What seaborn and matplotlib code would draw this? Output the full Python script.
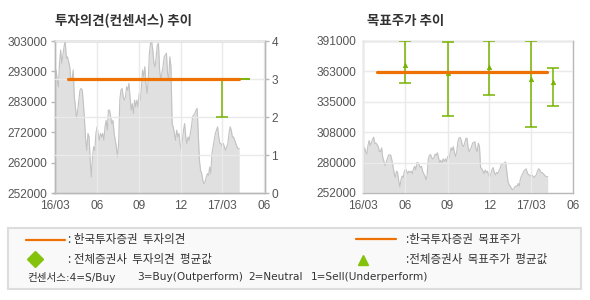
import numpy as np
import pandas as pd
import matplotlib
matplotlib.use('Agg')
import matplotlib.pyplot as plt
from matplotlib.patches import Rectangle
from matplotlib.lines import Line2D
import seaborn as sns

sns.set_theme(style='white')
plt.rcParams['font.family'] = ['Noto Sans CJK KR', 'DejaVu Sans']

# ---------------- data ----------------
price = [
    292700, 293300, 289900, 287600, 295500, 300000, 295500, 298300, 301100, 303000,
    297200, 297700, 296100, 294400, 289900, 289900, 293300, 284300, 280900, 277000,
    279800, 283200, 286500, 287100, 286500, 282000, 276400, 269700, 266300, 272000,
    270800, 263000, 257400, 264100, 267500, 266300, 272000, 274200, 272000, 269700,
    272000, 270800, 272000, 269700, 274200, 276400, 273100, 279800, 279800, 277600,
    275300, 276400, 272000, 269700, 267500, 264100, 268600, 283200, 286500, 287100,
    284300, 283200, 284300, 287600, 286500, 288800, 284300, 279800, 282000, 278700,
    283200, 280900, 283200, 280900, 285400, 283200, 287600, 293300, 291000, 294400,
    288800, 285400, 289900, 298900, 302200, 302800, 300000, 295500, 294400, 297700,
    301700, 302200, 293300, 289900, 292100, 294400, 297700, 298300, 298900, 292100,
    289900, 297700, 294400, 275300, 274200, 272000, 269700, 273100, 270800, 272000,
    268600, 266300, 269700, 273100, 275300, 270800, 268600, 270800, 269700, 272000,
    274200, 277600, 278100, 278700, 279800, 280400, 272000, 263000, 259600, 258500,
    256300, 255100, 255700, 257400, 258500, 257900, 260700, 258500, 265200, 267500,
    269700, 272000, 273100, 274200, 270800, 268600, 268600, 267500, 268600, 267500,
    266300, 267500, 268600, 272000, 274200, 273100, 270800, 270800, 269700, 268600,
    267500, 266900, 266900,
]
price_start, price_end = '2016-03-02', '2017-04-07'

house_start, house_end = '2016-03-31', '2017-04-06'
house_opinion = 3
house_target = 363000

survey_dates = ['2016-06-01', '2016-09-01', '2016-12-01', '2017-03-01', '2017-04-18']
tp_max = [391000, 389800, 391000, 391000, 366600]
tp_min = [352200, 322000, 341200, 311900, 332000]
tp_mean = [369500, 362000, 367000, 356000, 353700]
op_max = [3, 3, 3, 3, 3]
op_min = [3, 3, 3, 2, 3]
op_mean = [3, 3, 3, 3, 3]

left_tick_labels = ['252000', '262000', '272000', '283000', '293000', '303000']
right_tick_labels = ['252000', '280000', '308000', '335000', '363000', '391000']
opinion_ticks = [0, 1, 2, 3, 4]
x_tick_dates = ['2016-03-01', '2016-06-01', '2016-09-01', '2016-12-01', '2017-03-01', '2017-06-01']
x_tick_labels = ['16/03', '06', '09', '12', '17/03', '06']
consensus_parts = ['컨센서스:4=S/Buy', '3=Buy(Outperform)', '2=Neutral', '1=Sell(Underperform)']

# ---------------- styling ----------------
ORANGE = '#EE7203'
GREEN = '#76B300'
GREEN_L = '#84C20C'
FILL = '#E0E0E0'
PLINE = '#C2C2C2'
GRID = '#EAEAEA'
SPINE = '#B8B8B8'
TXT = '#555555'
DARK = '#333333'

W, H = 590, 300
fig = plt.figure(figsize=(W / 100, H / 100), dpi=100)
fig.patch.set_facecolor('white')

def rect(x0, y0, x1, y1):
    return [x0 / W, 1 - y1 / H, (x1 - x0) / W, (y1 - y0) / H]

dates = pd.date_range(price_start, price_end, periods=len(price))
df = pd.DataFrame({'date': dates, 'price': price})
xt = pd.to_datetime(x_tick_dates)
xlim = (xt[0], xt[-1])
sd = pd.to_datetime(survey_dates)


def style_axis(ax):
    ax.set_facecolor('white')
    for s in ax.spines.values():
        s.set_color(SPINE)
        s.set_linewidth(1)
    ax.tick_params(axis='both', length=3, width=1, color=SPINE, labelcolor=TXT,
                   labelsize=8.6, pad=2)
    for lab in ax.get_xticklabels() + ax.get_yticklabels():
        lab.set_family(['Liberation Sans', 'DejaVu Sans'])
    ax.set_xlabel('')
    ax.set_ylabel('')


def draw_price(ax, lo):
    ax.fill_between(df['date'], df['price'], lo, color=FILL, lw=0, zorder=1)
    sns.lineplot(data=df, x='date', y='price', ax=ax, color=PLINE, lw=0.8, zorder=1.2)


# ---------- left chart ----------
axL = fig.add_axes(rect(54.5, 41, 264.5, 193))
lo, hi = 252000, 303000
draw_price(axL, lo)
axL.set_ylim(lo, hi)
axL.set_xlim(*xlim)
axL.set_yticks(np.linspace(lo, hi, len(left_tick_labels)))
axL.set_yticklabels(left_tick_labels)
axL.set_xticks(xt)
axL.set_xticklabels(x_tick_labels)
axL.xaxis.grid(True, color=GRID, lw=1)
axL.yaxis.grid(False)
axL.set_axisbelow(False)
style_axis(axL)

axL2 = axL.twinx()
axL2.set_ylim(0, 4)
axL2.set_yticks(opinion_ticks)
axL2.yaxis.grid(True, color=GRID, lw=1, zorder=0.5)
axL2.set_axisbelow(False)
op_mean_a = np.array(op_mean, float)
axL2.errorbar(sd, op_mean_a, yerr=[op_mean_a - np.array(op_min), np.array(op_max) - op_mean_a],
              fmt='none', ecolor=GREEN, elinewidth=1.1, capsize=4.5, capthick=1.1, zorder=3)
sns.lineplot(x=pd.to_datetime([house_start, house_end]), y=[house_opinion] * 2, ax=axL2,
             color=ORANGE, lw=2.3, zorder=4)
axL2.set_xlim(*xlim)
style_axis(axL2)

# ---------- right chart ----------
axR = fig.add_axes(rect(363, 41, 573, 193))
lo, hi = 252000, 391000
draw_price(axR, lo)
axR.set_ylim(lo, hi)
axR.set_xlim(*xlim)
axR.set_yticks(np.linspace(lo, hi, len(right_tick_labels)))
axR.set_yticklabels(right_tick_labels)
axR.set_xticks(xt)
axR.set_xticklabels(x_tick_labels)
axR.grid(True, color=GRID, lw=1)
axR.set_axisbelow(False)
tm = np.array(tp_mean, float)
axR.errorbar(sd, tm, yerr=[tm - np.array(tp_min), np.array(tp_max) - tm],
             fmt='none', ecolor=GREEN, elinewidth=1.1, capsize=4.5, capthick=1.1, zorder=3)
sns.scatterplot(x=sd, y=tm, ax=axR, marker='^', s=10, color=GREEN, edgecolor=GREEN,
                linewidth=0.5, zorder=4)
sns.lineplot(x=pd.to_datetime([house_start, house_end]), y=[house_target] * 2, ax=axR,
             color=ORANGE, lw=2.3, zorder=5)
style_axis(axR)

# ---------- titles ----------
fig.text(55 / W, 1 - 20.5 / H, '투자의견(컨센서스) 추이', fontsize=9.7, fontweight='bold',
         color=DARK, va='center', ha='left')
fig.text(367 / W, 1 - 20.5 / H, '목표주가 추이', fontsize=9.7, fontweight='bold',
         color=DARK, va='center', ha='left')

# ---------- legend box ----------
fig.add_artist(Rectangle((8 / W, 1 - 289 / H), (581 - 8) / W, (289 - 228) / H,
                         transform=fig.transFigure, facecolor='#F9F9F9',
                         edgecolor='#DDDDDD', lw=1.5, zorder=0))

def fx(p):
    return p / W

def fy(p):
    return 1 - p / H

fig.add_artist(Line2D([fx(26), fx(65)], [fy(240), fy(240)], color=ORANGE, lw=1.6))
fig.add_artist(Line2D([fx(356), fx(396)], [fy(239), fy(239)], color=ORANGE, lw=1.6))
fig.add_artist(Line2D([fx(35)], [fy(259)], marker='D', ms=8, color=GREEN_L, mec=GREEN_L, lw=0))
fig.add_artist(Line2D([fx(363)], [fy(260)], marker='^', ms=7.5, color=GREEN_L, mec=GREEN_L, lw=0))

lt = dict(fontsize=8.3, color=DARK, va='center', ha='left')
fig.text(fx(68), fy(240), ': 한국투자증권  투자의견', **lt)
fig.text(fx(68), fy(259), ': 전체증권사  투자의견  평균값', **lt)
fig.text(fx(406), fy(240), ':한국투자증권  목표주가', **lt)
fig.text(fx(406), fy(259), ':전체증권사  목표주가  평균값', **lt)
for xpos, part in zip([27, 137, 248, 311], consensus_parts):
    fig.text(fx(xpos), fy(277.5), part, fontsize=7.6, color=DARK, va='center', ha='left',
             family=['DejaVu Sans', 'Noto Sans CJK KR'])

fig.savefig('out.png', dpi=100, facecolor='white')
